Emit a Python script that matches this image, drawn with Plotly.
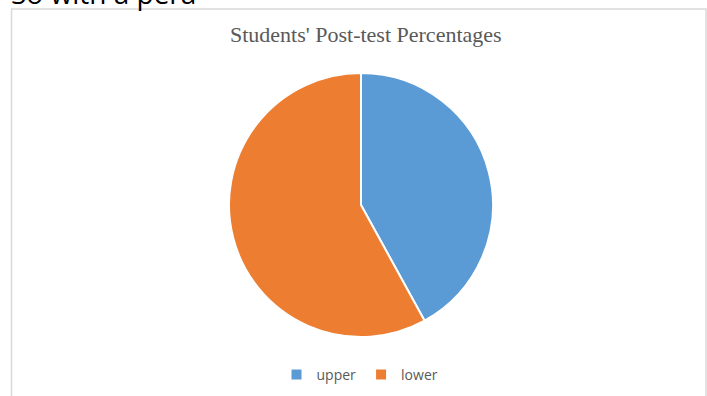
import plotly.graph_objects as go

W, H = 707, 396

labels = ["upper", "lower"]
values = [42, 58]
colors = ["#5B9BD5", "#ED7D31"]
title_text = "Students' Post-test Percentages"
top_text = "So with a pera"

def px(x):
    return x / W

def py(y):
    return 1 - y / H

fig = go.Figure()
fig.add_trace(go.Pie(
    labels=labels,
    values=values,
    marker=dict(colors=colors, line=dict(color="white", width=2)),
    sort=False,
    direction="clockwise",
    rotation=0,
    textinfo="none",
    hoverinfo="label+percent",
    domain=dict(x=[px(229), px(493)], y=[py(337), py(73)]),
))

fig.update_layout(
    width=W, height=H,
    margin=dict(l=0, r=0, t=0, b=0),
    paper_bgcolor="white",
    plot_bgcolor="white",
    showlegend=True,
    legend=dict(
        orientation="h",
        x=px(360), xanchor="center",
        y=py(375), yanchor="middle",
        font=dict(family="Open Sans", size=14, color="#595959"),
        itemwidth=30,
        traceorder="normal",
    ),
    shapes=[
        dict(type="rect", xref="paper", yref="paper",
             x0=px(11.5), x1=px(706), y0=py(397), y1=py(9),
             line=dict(color="#D9D9D9", width=1.5), fillcolor="rgba(0,0,0,0)"),
    ],
    annotations=[
        dict(text=title_text, xref="paper", yref="paper",
             x=px(366), y=py(34), xanchor="center", yanchor="middle",
             showarrow=False,
             font=dict(family="Liberation Serif", size=22, color="#595959")),
        dict(text=top_text, xref="paper", yref="paper",
             x=px(9), y=py(14), xanchor="left", yanchor="bottom",
             showarrow=False,
             font=dict(family="Open Sans", size=28, color="black")),
    ],
)

fig.write_html("out.html")
